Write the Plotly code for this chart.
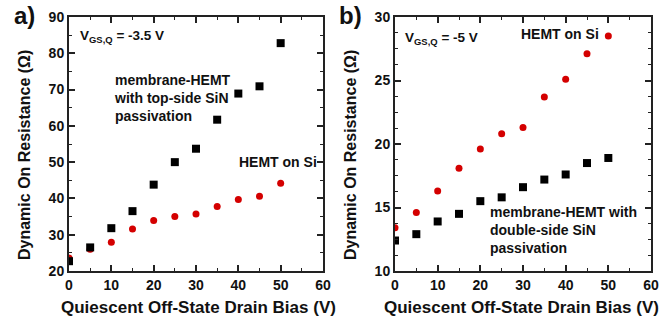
import plotly.graph_objects as go

x_bias = [0, 5, 10, 15, 20, 25, 30, 35, 40, 45, 50]
a_membrane = [22.7, 26.5, 31.8, 36.5, 43.8, 50.0, 53.7, 61.7, 68.9, 70.9, 82.8]
a_hemt_si = [23.6, 26.0, 27.9, 31.6, 33.9, 35.0, 35.7, 37.8, 39.7, 40.6, 44.2]
b_hemt_si = [13.4, 14.6, 16.3, 18.1, 19.6, 20.8, 21.3, 23.7, 25.1, 27.1, 28.5]
b_membrane = [12.4, 12.9, 13.9, 14.5, 15.5, 15.8, 16.6, 17.2, 17.6, 18.5, 18.9]
x_ticks = [0, 10, 20, 30, 40, 50, 60]
a_yticks = [20, 30, 40, 50, 60, 70, 80, 90]
b_yticks = [10, 15, 20, 25, 30]

W, H = 672, 322
FONT = "Liberation Sans"
RED = "#d40000"
BLK = "#000000"

fig = go.Figure()
fig.add_trace(go.Scatter(x=x_bias, y=a_hemt_si, mode="markers", xaxis="x", yaxis="y",
                         marker=dict(symbol="circle", size=7, color=RED), showlegend=False))
fig.add_trace(go.Scatter(x=x_bias, y=a_membrane, mode="markers", xaxis="x", yaxis="y",
                         marker=dict(symbol="square", size=8, color=BLK), showlegend=False))
fig.add_trace(go.Scatter(x=x_bias, y=b_hemt_si, mode="markers", xaxis="x2", yaxis="y2",
                         marker=dict(symbol="circle", size=7, color=RED), showlegend=False))
fig.add_trace(go.Scatter(x=x_bias, y=b_membrane, mode="markers", xaxis="x2", yaxis="y2",
                         marker=dict(symbol="square", size=8, color=BLK), showlegend=False))

def px(v):
    return v / W

def py(v):
    return 1 - v / H

axis_common = dict(showgrid=False, zeroline=False, showline=True, linecolor="#222", linewidth=2,
                   mirror="ticks", ticks="inside", ticklen=6, tickwidth=1.5, tickcolor="#222",
                   automargin=False,
                   tickfont=dict(family=FONT, size=14, color="#111", weight="bold"),
                   minor=dict(ticks="inside", ticklen=3, tickwidth=1, tickcolor="#222"))

yd = [py(271), py(17)]
fig.update_layout(
    width=W, height=H, margin=dict(l=0, r=0, t=0, b=0, autoexpand=False),
    paper_bgcolor="white", plot_bgcolor="white",
    font=dict(family=FONT, color="#111"),
    xaxis=dict(domain=[px(69), px(323)], range=[0, 60], tickvals=x_ticks, anchor="y",
               minor_dtick=5, **axis_common),
    yaxis=dict(domain=yd, range=[20, 90], tickvals=a_yticks, anchor="x",
               minor_dtick=5, **axis_common),
    xaxis2=dict(domain=[px(395), px(651)], range=[0, 60], tickvals=x_ticks, anchor="y2",
                minor_dtick=5, **axis_common),
    yaxis2=dict(domain=yd, range=[10, 30], tickvals=b_yticks, anchor="x2",
                minor_dtick=1.25, **axis_common),
)

def ann(text, x, y, size=13, xanchor="left", yanchor="middle", angle=0, align="left"):
    fig.add_annotation(text=text, x=px(x), y=py(y), xref="paper", yref="paper",
                       showarrow=False, xanchor=xanchor, yanchor=yanchor, textangle=angle,
                       align=align, font=dict(family=FONT, size=size, color="#111"))

bold = lambda s: "<b>" + s + "</b>"
ann(bold("a)"), 12, 15, size=24)
ann(bold("b)"), 337, 15, size=24)
ann(bold("Dynamic On Resistance (Ω)"), 24, 155, size=16, xanchor="center", angle=-90)
ann(bold("Dynamic On Resistance (Ω)"), 350, 155, size=16, xanchor="center", angle=-90)
ann(bold("Quiescent Off-State Drain Bias (V)"), 198, 307, size=17, xanchor="center")
ann(bold("Quiescent Off-State Drain Bias (V)"), 521, 307, size=17, xanchor="center")
ann(bold("V<sub>GS,Q</sub> = -3.5 V"), 78, 36, size=13.5)
ann(bold("membrane-HEMT<br>with top-side SiN<br>passivation"), 112, 98, size=14)
ann(bold("HEMT on Si"), 237, 162, size=14)
ann(bold("V<sub>GS,Q</sub> = -5 V"), 403, 38, size=13.5)
ann(bold("HEMT on Si"), 519, 34, size=14)
ann(bold("membrane-HEMT with<br>double-side SiN<br>passivation"), 488, 230, size=14)

fig.write_html("out.html")
